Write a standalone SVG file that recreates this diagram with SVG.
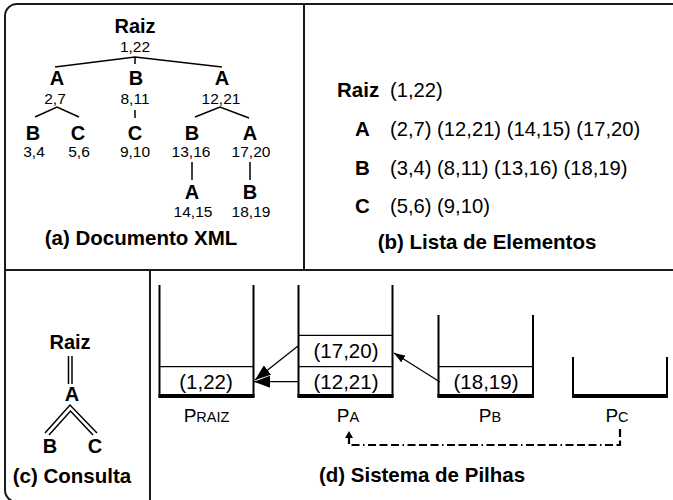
<svg xmlns="http://www.w3.org/2000/svg" width="673" height="500" viewBox="0 0 673 500">
<style>
text{font-family:"Liberation Sans",Arial,sans-serif;fill:#000}
.lb{font-weight:bold;font-size:20px;text-anchor:middle}
.nm{font-size:15.5px;text-anchor:middle}
.cap{font-weight:bold;font-size:20.5px;text-anchor:middle}
.bl{font-weight:bold;font-size:20.5px}
.tp{font-size:20.2px}
.tc{font-size:20.5px;text-anchor:middle}
.fr{fill:none;stroke:#1a1a1a;stroke-width:2}
.tr{fill:none;stroke:#000;stroke-width:1.5}
.wall{fill:none;stroke:#000;stroke-width:2}
.cell{fill:none;stroke:#000;stroke-width:1.3}
.base{stroke:#000;stroke-width:4}
.ar{fill:none;stroke:#000;stroke-width:1.3}
.dd{fill:none;stroke:#000;stroke-width:2.2;stroke-dasharray:8 3.5 8 3.5 8 3.5 1.5 3.5}
</style>
<defs>
<marker id="big" markerUnits="userSpaceOnUse" markerWidth="16" markerHeight="12" refX="16" refY="6" orient="auto"><path d="M0,0 L16,6 L0,12 z" fill="#000"/></marker>
<marker id="sm" markerUnits="userSpaceOnUse" markerWidth="11" markerHeight="8" refX="11" refY="4" orient="auto"><path d="M0,0 L11,4 L0,8 z" fill="#000"/></marker>
</defs>
<g id="frame">
<rect class="fr" x="5" y="4" width="720" height="498" rx="12"/>
<line class="fr" x1="304" y1="4" x2="304" y2="270"/>
<line class="fr" x1="5" y1="270" x2="673" y2="270"/>
<line class="fr" x1="150" y1="270" x2="150" y2="500"/>
</g>
<g id="panel-a">
<g id="tree-edges">
<polyline class="tr" points="55,67 135,57 222,67"/>
<line class="tr" x1="135" y1="57" x2="135" y2="64"/>
<polyline class="tr" points="35,117 57,107 79,117"/>
<line class="tr" x1="135" y1="110" x2="135" y2="118"/>
<polyline class="tr" points="195,117 220,107 249,118"/>
<line class="tr" x1="192" y1="162" x2="192" y2="180"/>
<line class="tr" x1="250" y1="162" x2="250" y2="180"/>
</g>
<g id="a-raiz"><text class="lb" x="135" y="33">Raiz</text><text class="nm" x="135" y="52">1,22</text></g>
<g id="a-A1"><text class="lb" x="57" y="85">A</text><text class="nm" x="55" y="104">2,7</text></g>
<g id="a-B1"><text class="lb" x="136" y="85">B</text><text class="nm" x="135" y="104">8,11</text></g>
<g id="a-A2"><text class="lb" x="222" y="85">A</text><text class="nm" x="221" y="104">12,21</text></g>
<g id="a-B2"><text class="lb" x="33" y="140">B</text><text class="nm" x="34" y="157">3,4</text></g>
<g id="a-C1"><text class="lb" x="78" y="140">C</text><text class="nm" x="79" y="157">5,6</text></g>
<g id="a-C2"><text class="lb" x="135" y="140">C</text><text class="nm" x="135" y="157">9,10</text></g>
<g id="a-B3"><text class="lb" x="192" y="140">B</text><text class="nm" x="191" y="157">13,16</text></g>
<g id="a-A3"><text class="lb" x="250" y="140">A</text><text class="nm" x="251" y="157">17,20</text></g>
<g id="a-A4"><text class="lb" x="192" y="199">A</text><text class="nm" x="193" y="217">14,15</text></g>
<g id="a-B4"><text class="lb" x="250" y="199">B</text><text class="nm" x="251" y="217">18,19</text></g>
<text class="cap" x="141" y="245">(a) Documento XML</text>
</g>
<g id="panel-b">
<text class="bl" x="337" y="97">Raiz</text><text class="tp" x="390" y="97">(1,22)</text>
<text class="bl" x="355" y="136">A</text><text class="tp" x="390" y="136">(2,7) (12,21) (14,15) (17,20)</text>
<text class="bl" x="355" y="175">B</text><text class="tp" x="390" y="175">(3,4) (8,11) (13,16) (18,19)</text>
<text class="bl" x="355" y="213">C</text><text class="tp" x="390" y="213">(5,6) (9,10)</text>
<text class="cap" x="487" y="249">(b) Lista de Elementos</text>
</g>
<g id="panel-c">
<g id="c-edges">
<line class="tr" x1="68.5" y1="356" x2="68.5" y2="384"/>
<line class="tr" x1="72" y1="356" x2="72" y2="384"/>
<polyline class="tr" points="45,433 70,405 97,433"/>
<polyline class="tr" points="49,435 70.5,411 93,435"/>
</g>
<g id="c-raiz"><text class="lb" x="70" y="349">Raiz</text></g>
<g id="c-A"><text class="lb" x="72" y="401">A</text></g>
<g id="c-B"><text class="lb" x="50" y="453">B</text></g>
<g id="c-C"><text class="lb" x="95" y="453">C</text></g>
<text class="cap" x="72" y="483">(c) Consulta</text>
</g>
<g id="panel-d">
<g id="stack-raiz">
<polyline class="wall" points="159.5,285 159.5,396 253.5,396 253.5,285"/>
<line class="cell" x1="159.5" y1="366.7" x2="253.5" y2="366.7"/>
<line class="base" x1="158.5" y1="396" x2="254.5" y2="396"/>
<text class="tc" x="206" y="389">(1,22)</text>
<text x="206.5" y="422" text-anchor="middle"><tspan font-size="19">P</tspan><tspan font-size="14.5">RAIZ</tspan></text>
</g>
<g id="stack-a">
<polyline class="wall" points="298.5,285 298.5,396 392.5,396 392.5,285"/>
<line class="cell" x1="298.5" y1="335.3" x2="392.5" y2="335.3"/>
<line class="cell" x1="298.5" y1="366.7" x2="392.5" y2="366.7"/>
<line class="base" x1="297.5" y1="396" x2="393.5" y2="396"/>
<text class="tc" x="346" y="358">(17,20)</text>
<text class="tc" x="346" y="389">(12,21)</text>
<text x="348" y="422" text-anchor="middle"><tspan font-size="19">P</tspan><tspan font-size="14.5">A</tspan></text>
</g>
<g id="stack-b">
<polyline class="wall" points="438.5,315 438.5,396 533,396 533,315"/>
<line class="cell" x1="438.5" y1="366.7" x2="533" y2="366.7"/>
<line class="base" x1="437.5" y1="396" x2="534" y2="396"/>
<text class="tc" x="486" y="389">(18,19)</text>
<text x="490" y="422" text-anchor="middle"><tspan font-size="19">P</tspan><tspan font-size="14.5">B</tspan></text>
</g>
<g id="stack-c">
<polyline class="wall" points="573,357 573,396 667,396 667,357"/>
<line class="base" x1="572" y1="396" x2="668" y2="396"/>
<text x="617" y="422" text-anchor="middle"><tspan font-size="19">P</tspan><tspan font-size="14.5">C</tspan></text>
</g>
<g id="connectors">
<line class="ar" x1="298" y1="381.7" x2="254" y2="381.7" marker-end="url(#big)"/>
<line class="ar" x1="298" y1="346" x2="255" y2="380" marker-end="url(#big)"/>
<line class="ar" x1="440" y1="382" x2="394" y2="353" marker-end="url(#sm)"/>
<path class="dd" d="M620,429 L620,445 L349,445 L349,438"/>
<path d="M345,438 L349,431 L353,438 z" fill="#000"/>
</g>
<text class="cap" x="422" y="482">(d) Sistema de Pilhas</text>
</g>
</svg>
